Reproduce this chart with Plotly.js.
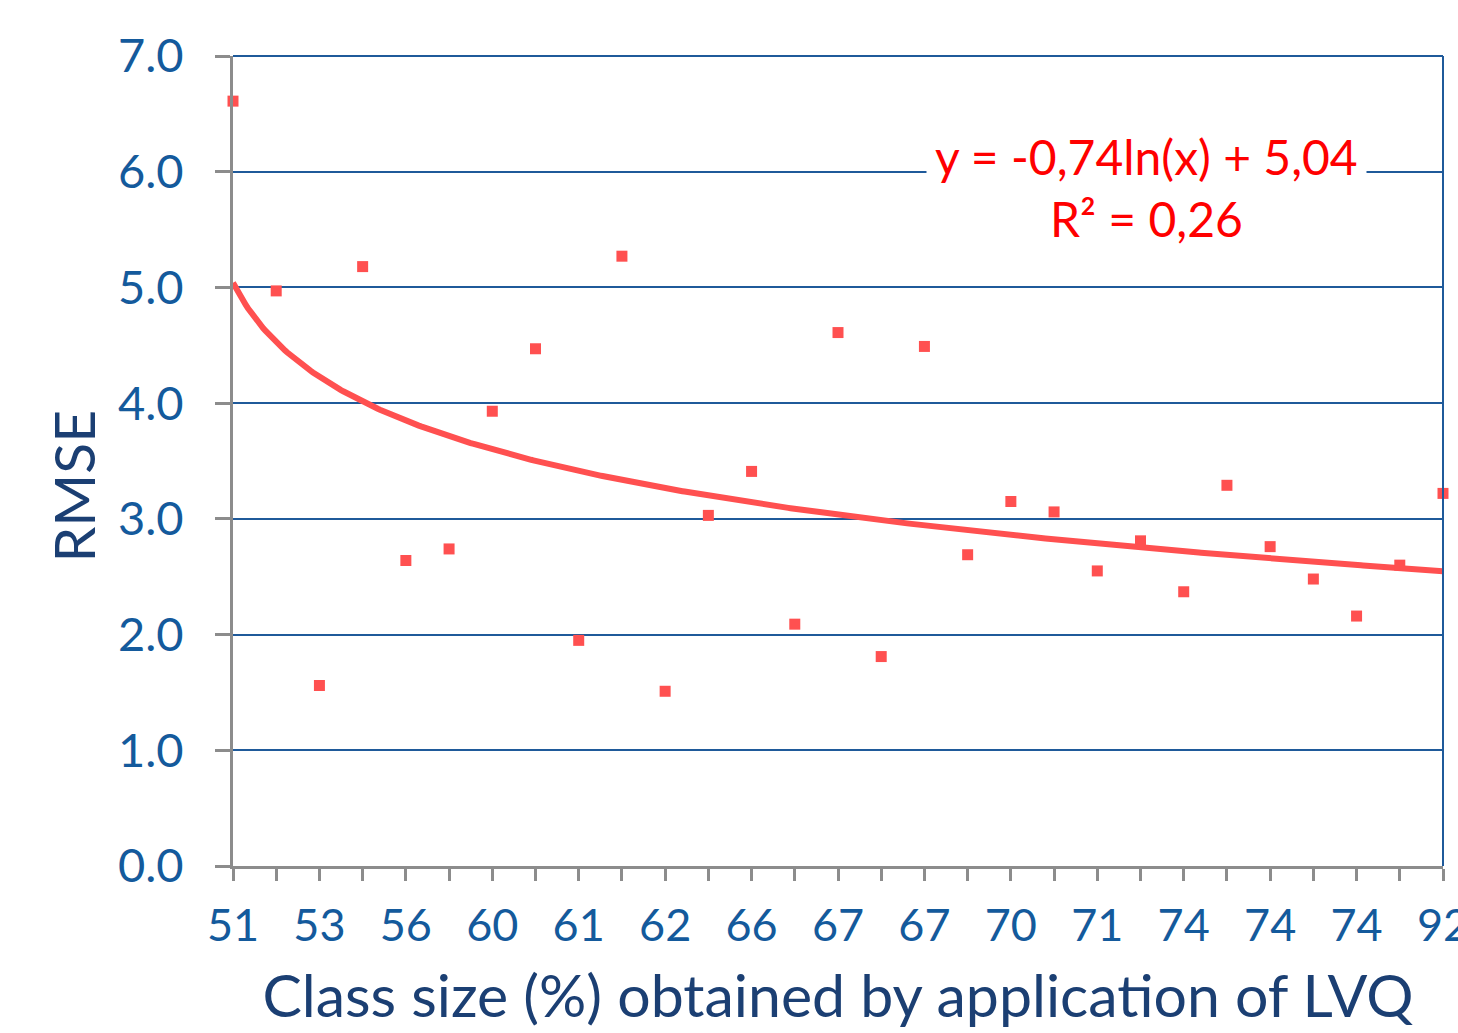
<!DOCTYPE html>
<html>
<head>
<meta charset="utf-8">
<script src="https://cdn.plot.ly/plotly-3.0.1.min.js"></script>
<style>html,body{margin:0;padding:0;background:#fff;}#chart{width:1458px;height:1033px;}</style>
</head>
<body>
<div id="chart"></div>
<script>
// Category positions (1..29) and their class-size labels
const classSize = [51,52,53,54,56,58,60,60,61,61,62,64,66,66,67,67,67,69,70,70,71,72,74,74,74,74,74,80,92];
const tickLabels = ["51","53","56","60","61","62","66","67","67","70","71","74","74","74","92"];
const rmse = [6.61,4.97,1.56,5.18,2.64,2.74,3.93,4.47,1.95,5.27,1.51,3.03,3.41,2.09,4.61,1.81,4.49,2.69,3.15,3.06,2.55,2.81,2.37,3.29,2.76,2.48,2.16,2.60,3.22];
// Logarithmic trendline coefficients shown on chart: y = a ln(x) + b
const trendA = -0.74;
const trendB = 5.04;

const xs = rmse.map((_, i) => i + 1);
const tickvals = xs;
const ticktext = xs.map((x, i) => (i % 2 === 0 ? tickLabels[i / 2] : ""));

const tx = [], ty = [];
for (let i = 0; i <= 560; i++) {
  const x = 1 + i * 0.05;
  tx.push(x);
  ty.push(trendA * Math.log(x) + trendB);
}

const blue = "#145A9C";
const navy = "#1B3F73";
const grid = "#1F5A9A";
const red = "#FF5050";
const font = "Lato, 'Open Sans', sans-serif";

const data = [
  {x: tx, y: ty, mode: "lines", type: "scatter", line: {color: red, width: 6}, hoverinfo: "skip", showlegend: false, cliponaxis: false},
  {x: xs, y: rmse, mode: "markers", type: "scatter", marker: {symbol: "square", size: 11, color: red}, showlegend: false, cliponaxis: false}
];

const layout = {
  width: 1458, height: 1033,
  margin: {l: 233, r: 15, t: 56, b: 167},
  paper_bgcolor: "#fff", plot_bgcolor: "#fff",
  showlegend: false,
  xaxis: {
    range: [1, 29], tickmode: "array", tickvals: tickvals, ticktext: ticktext,
    ticks: "outside", ticklen: 12, tickwidth: 3, tickcolor: "#8C8C8C",
    showline: true, linecolor: "#8C8C8C", linewidth: 3,
    showgrid: false, zeroline: false,
    tickfont: {family: font, size: 45, color: blue},
    ticklabelstandoff: 6, ticklabeloverflow: "allow",
    title: {text: "Class size (%) obtained by application of LVQ", font: {family: font, size: 59, color: navy}, standoff: 26}
  },
  yaxis: {
    range: [0, 7], tickvals: [0,1,2,3,4,5,6,7], ticktext: ["0.0","1.0","2.0","3.0","4.0","5.0","6.0","7.0"],
    ticks: "outside", ticklen: 15, tickwidth: 3, tickcolor: "#8C8C8C",
    showline: true, linecolor: "#8C8C8C", linewidth: 3,
    showgrid: true, gridcolor: grid, gridwidth: 2, zeroline: false,
    tickfont: {family: font, size: 47, color: blue},
    ticklabelstandoff: 22
  },
  shapes: [
    {type: "line", xref: "paper", yref: "paper", x0: 1, x1: 1, y0: 0, y1: 1, line: {color: grid, width: 2}},
    {type: "line", xref: "paper", yref: "paper", x0: 0, x1: 1, y0: 1, y1: 1, line: {color: grid, width: 2}}
  ],
  annotations: [
    {xref: "paper", yref: "paper", x: 0.755, y: 0.838, xanchor: "center", yanchor: "middle",
     text: "y = -0,74ln(x) + 5,04<br>R² = 0,26", showarrow: false, align: "center",
     font: {family: font, size: 48, color: "#FF0000"}, bgcolor: "#fff", borderpad: 8},
    {xref: "paper", yref: "paper", x: -0.132, y: 0.469, xanchor: "center", yanchor: "middle",
     text: "RMSE", textangle: -90, showarrow: false,
     font: {family: font, size: 57, color: navy}}
  ]
};

Plotly.newPlot("chart", data, layout, {displayModeBar: false, staticPlot: true});
</script>
</body>
</html>
